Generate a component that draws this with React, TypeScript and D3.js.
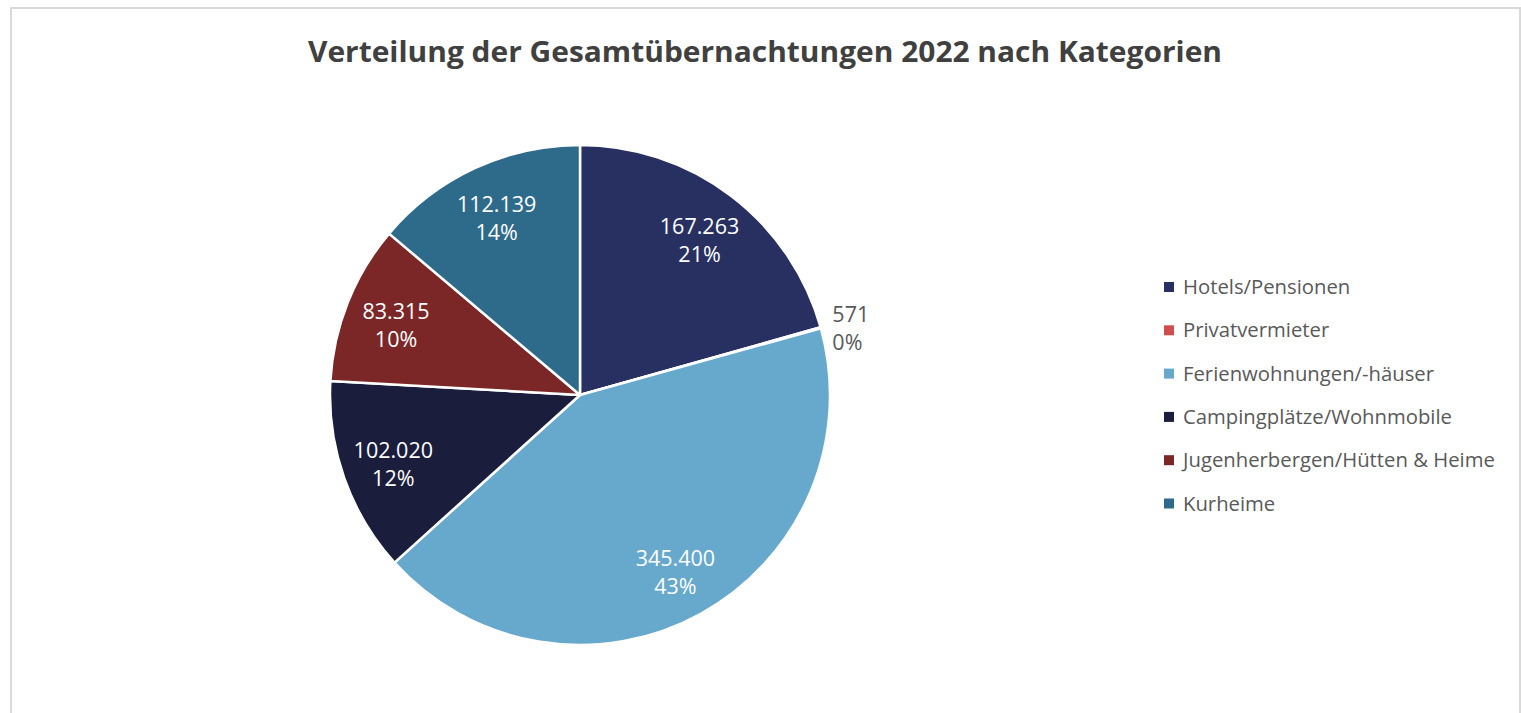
import React, { useEffect, useRef } from 'react';
import * as d3 from 'd3';

// categories and values (Übernachtungen 2022)
const categories = [
  'Hotels/Pensionen',
  'Privatvermieter',
  'Ferienwohnungen/-häuser',
  'Campingplätze/Wohnmobile',
  'Jugenherbergen/Hütten & Heime',
  'Kurheime',
];
const values = [167263, 571, 345400, 102020, 83315, 112139];
// percentage labels as printed in the chart
const percentLabels = ['21%', '0%', '43%', '12%', '10%', '14%'];
const colors = ['#283061', '#d04d4d', '#67a8cd', '#1b1d3c', '#7b2728', '#2e6b8a'];
const title = 'Verteilung der Gesamtübernachtungen 2022 nach Kategorien';

const W = 1521;
const H = 713;

const App = () => {
  const svgRef = useRef<SVGSVGElement>(null);

  useEffect(() => {
    const svg = d3.select(svgRef.current);
    svg.selectAll('*').remove();

    // chart frame
    svg.append('rect')
      .attr('x', 11)
      .attr('y', 8)
      .attr('width', W - 12)
      .attr('height', H + 20)
      .attr('fill', '#fff')
      .attr('stroke', '#d9d9d9')
      .attr('stroke-width', 2);

    svg.append('text')
      .attr('x', 765)
      .attr('y', 62)
      .attr('text-anchor', 'middle')
      .attr('font-family', '"Open Sans", sans-serif')
      .attr('font-weight', 700)
      .attr('font-size', 29)
      .attr('fill', '#404040')
      .attr('textLength', 914)
      .attr('lengthAdjust', 'spacingAndGlyphs')
      .text(title);

    const cx = 580, cy = 395, r = 250;
    const total = d3.sum(values);
    const data = categories.map((c, i) => ({
      name: c, value: values[i], color: colors[i], pct: percentLabels[i],
    }));

    const pie = d3.pie<any>().value(d => d.value).sort(null);
    const arcs = pie(data);
    const arc = d3.arc<any>().innerRadius(0).outerRadius(r);
    const labelArc = d3.arc<any>().innerRadius(198).outerRadius(198);
    const outArc = d3.arc<any>().innerRadius(262).outerRadius(262);

    const g = svg.append('g').attr('transform', `translate(${cx},${cy})`);

    g.selectAll('path')
      .data(arcs)
      .join('path')
      .attr('d', arc)
      .attr('fill', d => d.data.color)
      .attr('stroke', '#fff')
      .attr('stroke-width', 2.5)
      .attr('stroke-linejoin', 'round');

    const fmt = d3.formatLocale({ decimal: ',', thousands: '.', grouping: [3], currency: ['', '€'] }).format(',');

    arcs.forEach(a => {
      const small = a.data.value / total < 0.02;
      const [x, y] = small ? outArc.centroid(a) : labelArc.centroid(a);
      const t = g.append('text')
        .attr('font-family', '"Open Sans", sans-serif')
        .attr('font-size', 21.5)
        .attr('fill', small ? '#595959' : '#fff')
        .attr('text-anchor', small ? 'start' : 'middle');
      t.append('tspan').attr('x', x).attr('y', y - 3).text(fmt(a.data.value));
      t.append('tspan').attr('x', x).attr('y', y + 25).text(a.data.pct);
    });

    // legend
    const legend = svg.append('g').attr('transform', 'translate(1164, 287)');
    data.forEach((d, i) => {
      const row = legend.append('g').attr('transform', `translate(0, ${i * 43.3})`);
      row.append('rect')
        .attr('x', 0)
        .attr('y', -5)
        .attr('width', 10)
        .attr('height', 10)
        .attr('fill', d.color);
      row.append('text')
        .attr('x', 19)
        .attr('y', 7)
        .attr('font-family', '"Open Sans", sans-serif')
        .attr('font-size', 20.3)
        .attr('fill', '#595959')
        .text(d.name);
    });
  }, []);

  return (
    <svg
      ref={svgRef}
      width={W}
      height={H}
      style={{ position: 'absolute', left: 0, top: 0, background: '#fff' }}
    />
  );
};

export default App;
